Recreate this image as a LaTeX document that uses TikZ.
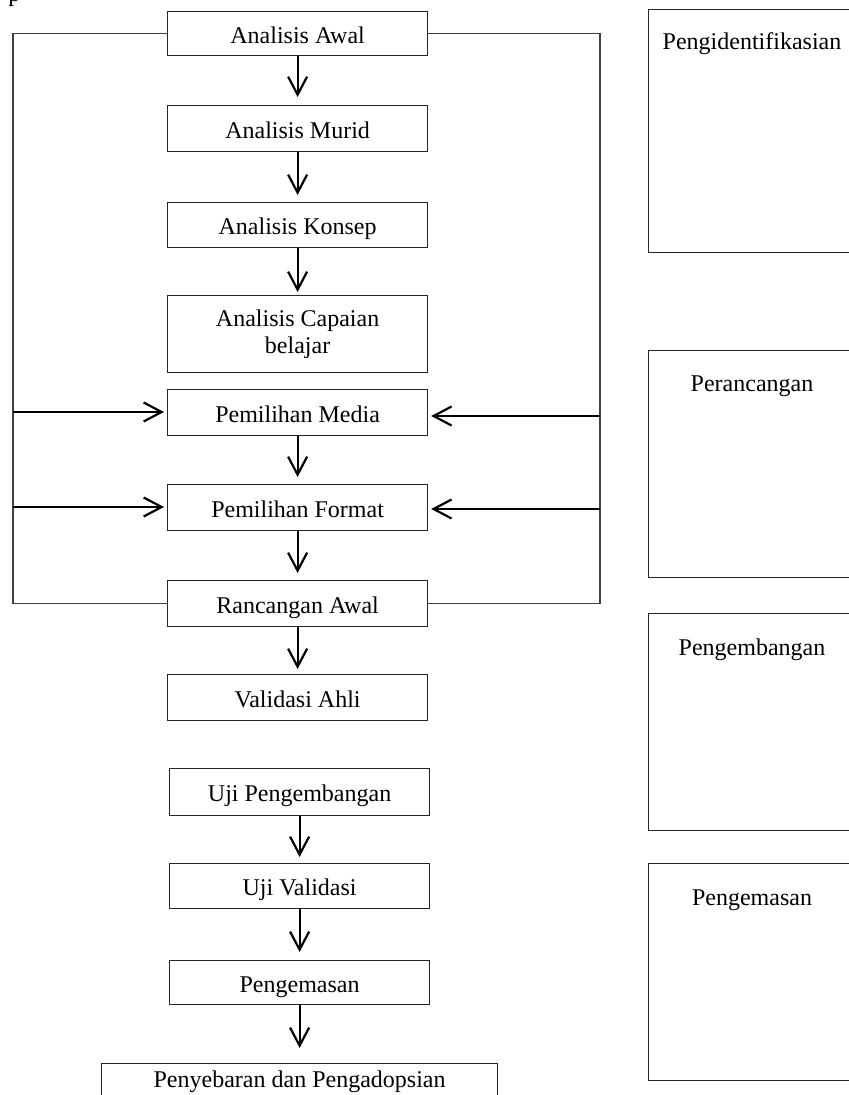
\documentclass[tikz,border=0pt]{standalone}
\usepackage{fontspec}
\setmainfont{Liberation Serif}
\usetikzlibrary{arrows.meta}
\begin{document}
\begin{tikzpicture}[x=0.5pt,y=-0.5pt,
  font=\fontsize{12}{13.5}\selectfont,
  boxbase/.style={draw=black!85,line width=0.6pt,inner sep=0pt,anchor=north west,minimum width=130pt,align=center},
  box/.style={boxbase,text height=9.5pt,text depth=0pt},
  rbox/.style={draw=black!85,line width=0.6pt,inner sep=0pt,anchor=north west,minimum width=104pt},
  rtext/.style={anchor=base,inner sep=0pt},
  frame/.style={draw=black!75,line width=0.6pt},
  arr/.style={line width=1.1pt,-{Straight Barb[length=9pt,width=9.5pt]}}
]
\useasboundingbox (0,0) rectangle (849,1095);
\fill[white] (0,0) rectangle (849,1095);

% stray cropped letter at the top
\node[anchor=base west,inner sep=0pt] (pp) at (8,2) {p};

% left column
\node[box,minimum height=22pt]   (aa) at (167,11)  {Analisis Awal};
\node[box,minimum height=23pt]   (am) at (167,105) {Analisis Murid};
\node[box,minimum height=22.5pt] (ak) at (167,202) {Analisis Konsep};
\node[boxbase,minimum height=38.5pt] (ac) at (167,295) {Analisis Capaian\\belajar};
\node[box,minimum height=23pt]   (pm) at (167,389) {Pemilihan Media};
\node[box,minimum height=23pt]   (pf) at (167,484) {Pemilihan Format};
\node[box,minimum height=23pt]   (ra) at (167,580) {Rancangan Awal};
\node[box,minimum height=23pt]   (va) at (167,674) {Validasi Ahli};
\node[box,minimum height=23.5pt] (up) at (169,768) {Uji Pengembangan};
\node[box,minimum height=22.5pt] (uv) at (169,863) {Uji Validasi};
\node[box,minimum height=22pt]   (pg) at (169,960) {Pengemasan};
\node[boxbase,minimum width=198pt,minimum height=24pt,text height=0pt,text depth=0pt] (ps) at (101,1063) {Penyebaran dan Pengadopsian};

% right column
\node[rbox,minimum height=121.5pt] (r1) at (648,9) {};
\node[rtext] (t1) at (752,50) {Pengidentifikasian};
\node[rbox,minimum height=113.5pt] (r2) at (648,350) {};
\node[rtext] (t2) at (752,392) {Perancangan};
\node[rbox,minimum height=108.5pt] (r3) at (648,613) {};
\node[rtext] (t3) at (752,655) {Pengembangan};
\node[rbox,minimum height=108.5pt] (r4) at (648,863) {};
\node[rtext] (t4) at (752,905) {Pengemasan};

% frame
\coordinate (lx) at (13,0);
\coordinate (rx) at (600,0);
\draw[frame] (aa.west) -- (aa.west -| lx) |- (ra.west);
\draw[frame] (aa.east) -- (aa.east -| rx) |- (ra.east);

% side arrows
\coordinate (lm) at (13,412);
\coordinate (lf) at (13,507);
\coordinate (rm) at (600,416);
\coordinate (rf) at (600,509);
\draw[arr,shorten >=1.5pt] (lm) -- (lm -| pm.west);
\draw[arr,shorten >=1.5pt] (lf) -- (lf -| pf.west);
\draw[arr,shorten >=1.5pt] (rm) -- (rm -| pm.east);
\draw[arr,shorten >=1.5pt] (rf) -- (rf -| pf.east);

% vertical arrows
\draw[arr,shorten >=4pt]   (aa.south) -- (am.north);
\draw[arr,shorten >=3.5pt] (am.south) -- (ak.north);
\draw[arr,shorten >=1.5pt] (ak.south) -- (ac.north);
\draw[arr,shorten >=3.5pt] (pm.south) -- (pf.north);
\draw[arr,shorten >=3.5pt] (pf.south) -- (ra.north);
\draw[arr,shorten >=2.5pt] (ra.south) -- (va.north);
\draw[arr,shorten >=3pt]   (up.south) -- (uv.north);
\draw[arr,shorten >=4pt]   (uv.south) -- (pg.north);
\draw[arr,shorten >=7.5pt] (pg.south) -- (pg.south |- ps.north);
\end{tikzpicture}
\end{document}
